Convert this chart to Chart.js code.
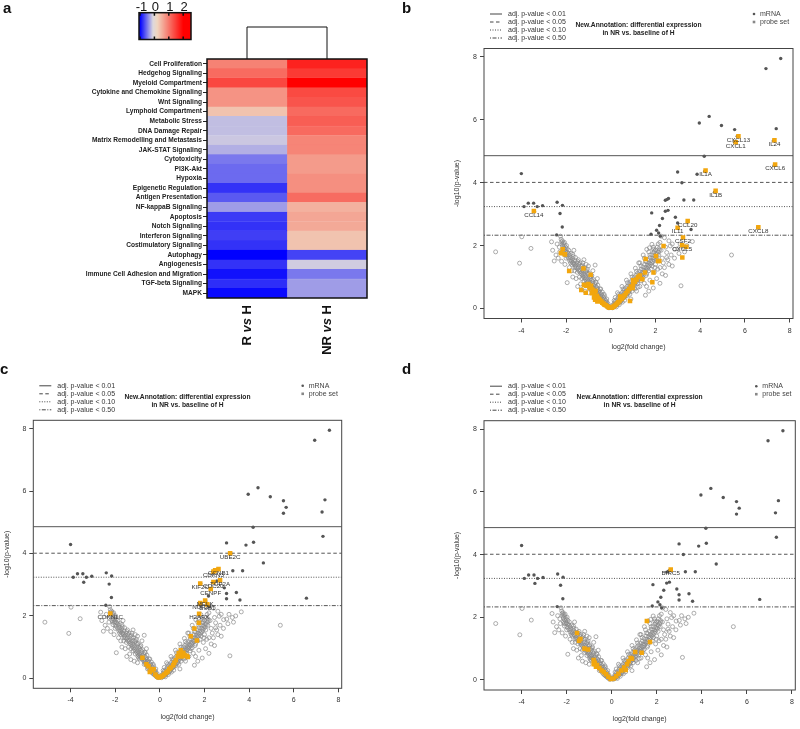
<!DOCTYPE html>
<html>
<head>
<meta charset="utf-8">
<script src="https://cdn.jsdelivr.net/npm/chart.js@4.4.1/dist/chart.umd.min.js"></script>
<style>
  html, body { margin: 0; padding: 0; background: #fff; }
  #wrap { position: relative; width: 800px; height: 729px; overflow: hidden; }
  canvas { position: absolute; }
</style>
</head>
<body>
<div id="wrap">
  <canvas id="heat" width="400" height="360" style="left:0;top:0"></canvas>
  <canvas id="volB" width="400" height="365" style="left:400px;top:0"></canvas>
  <canvas id="volC" width="400" height="389" style="left:0;top:340px"></canvas>
  <canvas id="volD" width="400" height="389" style="left:400px;top:340px"></canvas>
</div>
<script>
// ===== DATA =====
const pathways = ['Cell Proliferation', 'Hedgehog Signaling', 'Myeloid Compartment', 'Cytokine and Chemokine Signaling',
  'Wnt Signaling', 'Lymphoid Compartment', 'Metabolic Stress', 'DNA Damage Repair', 'Matrix Remodelling and Metastasis',
  'JAK-STAT Signaling', 'Cytotoxicity', 'PI3K-Akt', 'Hypoxia', 'Epigenetic Regulation', 'Antigen Presentation',
  'NF-kappaB Signaling', 'Apoptosis', 'Notch Signaling', 'Interferon Signaling', 'Costimulatory Signaling',
  'Autophagy', 'Angiogenesis', 'Immune Cell Adhesion and Migration', 'TGF-beta Signaling', 'MAPK'];
const comparisons = ['R vs H', 'NR vs H'];
const rVsH = [0.91, 1.10, 1.40, 0.76, 0.76, 0.36, -0.21, -0.21, -0.17, -0.27, -0.50, -0.56, -0.56,
  -0.79, -0.63, -0.35, -0.76, -0.79, -0.74, -0.79, -1.00, -0.79, -0.93, -0.81, -0.96];
const nrVsH = [1.71, 1.51, 2.00, 1.38, 1.29, 1.11, 1.21, 1.11, 0.88, 0.88, 0.70, 0.70, 0.80,
  0.80, 1.09, 0.51, 0.60, 0.58, 0.36, 0.36, -0.72, -0.15, -0.50, -0.35, -0.35];
const keyTicks = [-1, 0, 1, 2];

const xTicks = [-4, -2, 0, 2, 4, 6, 8];
const yTicks = [0, 2, 4, 6, 8];
const thresholds = [4.86, 4.01, 3.24, 2.33];
const thresholdLabels = ['adj. p-value < 0.01', 'adj. p-value < 0.05', 'adj. p-value < 0.10', 'adj. p-value < 0.50'];

// non-significant features (open circles), shared by b, c, d
const nsPoints = [
  [-0.05,0.04],[-0.10,0.08],[-0.12,0.15],[-0.15,0.10],[-0.18,0.20],[-0.20,0.14],[-0.22,0.25],[-0.25,0.18],[-0.28,0.30],[-0.30,0.22],
  [-0.32,0.35],[-0.35,0.27],[-0.38,0.40],[-0.40,0.30],[-0.42,0.45],[-0.45,0.36],[-0.48,0.50],[-0.50,0.40],[-0.52,0.55],[-0.55,0.45],
  [-0.58,0.60],[-0.60,0.50],[-0.62,0.66],[-0.65,0.55],[-0.68,0.70],[-0.70,0.60],[-0.72,0.78],[-0.75,0.64],[-0.78,0.72],[-0.80,0.85],
  [-0.82,0.68],[-0.85,0.90],[-0.88,0.76],[-0.90,0.95],[-0.92,0.80],[-0.95,1.00],[-0.98,0.86],[-1.00,1.08],[-1.03,0.92],[-1.06,1.12],
  [-1.10,0.98],[-1.12,1.18],[-1.15,1.05],[-1.20,1.22],[-1.22,1.10],[-1.25,1.30],[-1.30,1.16],[-1.33,1.35],[-1.38,1.22],[-1.42,1.40],
  [-1.45,1.30],[-1.50,1.45],[-1.55,1.38],[-1.60,1.52],[-1.65,1.44],[-1.70,1.58],[-1.75,1.50],[-1.80,1.62],[-1.85,1.70],[-1.90,1.75],
  [-1.95,1.66],[-2.00,1.82],[-2.02,1.95],[-2.05,1.88],[-2.08,2.02],[-2.10,1.92],[-2.12,2.08],[-2.15,1.98],[-2.18,2.05],[-2.20,2.12],
  [-2.22,2.20],[-0.30,0.45],[-0.55,0.30],[-0.70,0.45],[-0.90,0.62],[-1.10,0.78],[-1.30,0.95],[-0.45,0.62],[-0.65,0.82],[-0.85,1.05],
  [-1.05,1.25],[-1.25,1.45],[-1.45,1.55],[-1.70,1.72],[-1.95,1.90],[-1.60,1.30],[-1.80,1.45],[-2.00,1.60],[-2.10,1.72],[-1.95,0.82],
  [-1.30,0.60],[-0.70,1.38],[-2.45,1.70],[-2.53,1.51],[-2.65,2.12],[-2.25,2.30],[-3.98,2.28],[-5.15,1.80],[-4.08,1.44],[-3.57,1.91],
  [-1.70,1.00],[-1.15,0.55],[-2.30,1.95],[-1.50,1.15],[-0.95,0.65],
  [-0.08,0.02],[-0.14,0.05],[-0.19,0.08],[-0.24,0.11],[-0.29,0.14],[-0.34,0.17],[-0.39,0.21],[-0.44,0.26],[-0.49,0.31],[-0.54,0.36],
  [-0.59,0.41],[-0.64,0.46],[-0.69,0.52],[-0.74,0.57],[-0.79,0.62],[-0.84,0.66],[-0.89,0.70],[-0.94,0.74],[-0.99,0.78],[-1.04,0.83],
  [-1.09,0.88],[-1.14,0.93],[-1.19,0.98],[-1.24,1.03],[-1.29,1.08],[-1.34,1.12],[-1.39,1.17],[-1.44,1.21],[-1.49,1.26],[-1.54,1.30],
  [-1.59,1.35],[-1.64,1.40],[-1.69,1.45],[-1.74,1.40],[-1.79,1.55],[-1.84,1.52],[-1.89,1.60],[-1.94,1.78],[-1.99,1.70],[-2.04,1.80],
  [-2.07,2.10],[-2.14,1.85],[-2.16,2.15],[-2.11,1.80],[-1.98,2.00],[-1.88,1.85],[-1.78,1.75],[-1.68,1.65],[-1.58,1.62],[-1.48,1.50],
  [-1.38,1.45],[-1.28,1.38],[-1.18,1.30],[-1.08,1.20],[-0.98,1.12],[-0.88,1.02],[-0.78,0.92],[-0.68,0.84],[-0.58,0.74],[-0.48,0.62],
  [-0.38,0.52],[-0.28,0.40],[-0.18,0.30],[-1.62,1.20],[-1.40,1.00],[-1.20,0.88],[-0.98,0.70],[-2.35,1.60],[-1.00,0.50],[-0.60,0.95],
  [-1.10,1.40],[-2.05,1.40],[-2.40,2.05],[-1.75,1.20],[-1.55,0.95],[-1.85,1.30],[-2.20,1.50],[-2.60,1.85],[-1.35,0.78],
  [-0.80,1.20],[-1.20,1.55],[-1.00,1.35],[-1.65,1.85],[-2.28,1.80],[-1.48,0.70],
  [0.05,0.05],[0.08,0.10],[0.12,0.08],[0.15,0.16],[0.18,0.12],[0.20,0.22],[0.24,0.17],[0.27,0.28],[0.30,0.20],[0.33,0.34],
  [0.36,0.26],[0.40,0.40],[0.43,0.32],[0.46,0.46],[0.50,0.38],[0.53,0.52],[0.56,0.44],[0.60,0.58],[0.63,0.50],[0.66,0.64],
  [0.70,0.55],[0.73,0.70],[0.76,0.60],[0.80,0.76],[0.83,0.66],[0.86,0.82],[0.90,0.72],[0.93,0.88],[0.96,0.78],[1.00,0.94],
  [1.03,0.84],[1.06,1.00],[1.10,0.90],[1.13,1.06],[1.16,0.96],[1.20,1.12],[1.24,1.02],[1.28,1.18],[1.32,1.08],[1.36,1.25],
  [1.40,1.15],[1.44,1.32],[1.48,1.22],[1.52,1.40],[1.56,1.30],[1.60,1.48],[1.64,1.38],[1.68,1.55],[1.72,1.45],[1.76,1.62],
  [1.80,1.52],[1.84,1.70],[1.88,1.60],[1.92,1.78],[1.96,1.68],[2.00,1.86],[2.04,1.75],[2.08,1.95],[2.12,2.05],[2.16,1.90],
  [2.20,2.10],[0.50,0.70],[0.70,0.90],[0.90,1.10],[1.10,1.28],[1.30,1.45],[1.50,1.60],[1.70,1.80],[1.90,1.95],[0.60,0.35],
  [0.80,0.50],[1.00,0.65],[1.20,0.80],[1.40,0.95],[1.60,1.10],[1.80,1.25],[2.00,1.40],[1.30,0.70],[1.55,0.42],[0.90,0.30],
  [1.15,0.55],[1.75,0.90],[1.95,1.15],[2.20,1.30],[2.30,1.60],[2.50,1.62],[2.50,1.78],[2.66,1.99],[2.86,1.88],[2.75,2.05],
  [3.00,1.90],[3.10,2.05],[3.25,1.95],[3.40,2.00],[3.65,2.13],[3.14,0.72],[5.40,1.70],[2.40,2.25],[2.25,2.30],[1.84,2.04],
  [1.73,1.93],[1.61,1.88],[1.91,1.88],[2.15,1.70],[2.35,1.45],[2.60,1.40],[1.45,1.70],[1.25,1.45],[0.30,0.50],[0.45,0.22],
  [0.20,0.35],
  [0.07,0.02],[0.13,0.05],[0.18,0.07],[0.23,0.10],[0.28,0.13],[0.33,0.16],[0.38,0.19],[0.43,0.23],[0.48,0.27],[0.53,0.31],
  [0.58,0.35],[0.63,0.39],[0.68,0.43],[0.73,0.47],[0.78,0.52],[0.83,0.56],[0.88,0.61],[0.93,0.65],[0.98,0.70],[1.03,0.74],
  [1.08,0.78],[1.13,0.83],[1.18,0.88],[1.23,0.92],[1.28,0.96],[1.33,1.00],[1.38,1.05],[1.43,1.10],[1.48,1.14],[1.53,1.18],
  [1.58,1.22],[1.63,1.27],[1.68,1.32],[1.73,1.36],[1.78,1.40],[1.83,1.45],[1.88,1.50],[1.93,1.55],[1.98,1.60],[2.03,1.65],
  [2.08,1.72],[2.13,1.80],[2.18,1.85],[2.06,1.55],[1.98,1.30],[1.85,1.35],[1.70,1.20],[1.58,1.05],[1.45,0.98],[1.35,0.88],
  [1.22,0.68],[1.08,0.62],[0.95,0.55],[0.85,0.45],[0.72,0.40],[0.62,0.26],[0.52,0.20],[0.38,0.12],[0.25,0.05],[0.15,0.25],
  [0.35,0.45],[0.55,0.62],[0.75,0.82],[0.95,1.00],[1.15,1.18],[1.35,1.35],[1.55,1.50],[1.75,1.70],[1.95,1.82],[2.10,1.25],
  [2.25,1.85],[2.45,1.95],[2.60,2.15],[2.70,1.70],[1.60,0.70],[2.30,1.10],[2.05,0.95],[1.50,0.80],[2.40,1.30],[2.55,1.55],
  [2.85,1.60],[3.05,1.75],[2.20,0.80],[1.90,0.65],[2.75,1.35],[3.30,1.80],[1.70,0.55],[2.45,1.05]
];

// significant mRNA features (solid dots), shared by b, c, d
const sigPoints = [
  [7.60,7.95],[6.94,7.63],[4.40,6.11],[3.96,5.90],[4.95,5.82],[5.54,5.69],[7.40,5.72],[5.66,5.48],[5.54,5.29],[7.27,5.33],
  [4.18,4.84],[7.31,4.55],[2.99,4.34],[4.20,4.36],[3.86,4.27],[3.18,4.00],[4.64,3.70],[3.27,3.45],[3.71,3.45],[2.44,3.44],
  [2.52,3.47],[2.58,3.50],[2.44,3.09],[2.56,3.12],[1.83,3.04],[2.89,2.90],[2.31,2.86],[2.99,2.72],[3.43,2.75],[2.18,2.64],
  [2.99,2.55],[3.59,2.51],[2.05,2.49],[2.14,2.40],[1.80,2.36],[2.22,2.30],[6.57,2.57],
  [-4.00,4.29],[-3.88,3.24],[-3.69,3.35],[-3.45,3.35],[-3.41,3.08],[-3.29,3.24],[-3.05,3.27],[-2.40,3.38],[-2.27,3.02],
  [-2.16,3.28],[-2.17,2.59],[-2.42,2.34]
];

// panel b probe sets
const bLabels = ['CXCL13', 'CXCL1', 'IL24', 'CXCL6', 'IL1A', 'IL1B', 'CCL14', 'CCL20', 'IL11', 'CXCL8', 'CSF2', 'CXCL5'];
const bLabelled = [[5.71,5.48],[5.59,5.29],[7.32,5.35],[7.35,4.58],[4.24,4.39],[4.69,3.74],[-3.44,3.10],[3.44,2.78],
  [2.99,2.57],[6.60,2.58],[3.23,2.26],[3.19,2.01]];
const bOther = [[3.38,1.96],[3.20,1.62],[2.36,1.99],[-2.15,1.88],[-2.23,1.76],[-2.05,1.72],[-1.22,1.27],[-1.86,1.19],
  [-0.90,1.07],[-1.32,0.59],[-1.20,0.75],[-1.10,0.72],[-1.00,0.78],[-0.95,0.65],[-0.88,0.72],[-0.82,0.60],[-0.78,0.52],
  [-0.72,0.45],[-0.68,0.56],[-0.62,0.40],[-0.58,0.34],[-0.52,0.30],[-0.48,0.25],[-0.42,0.22],[-0.38,0.18],[-0.32,0.15],
  [-0.28,0.12],[-0.22,0.10],[-0.16,0.07],[-0.10,0.04],[-0.05,0.02],[-0.85,0.48],[-0.75,0.35],[-0.70,0.28],[-0.60,0.22],
  [-1.12,0.50],[0.05,0.02],[0.10,0.05],[0.16,0.08],[0.22,0.12],[0.28,0.16],[0.34,0.20],[0.40,0.25],[0.42,0.38],[0.48,0.30],
  [0.55,0.36],[0.62,0.42],[0.68,0.48],[0.75,0.55],[0.86,0.24],[0.82,0.62],[0.90,0.70],[0.98,0.65],[1.00,0.78],[1.08,0.85],
  [1.15,0.92],[1.22,1.00],[1.41,0.93],[1.53,1.14],[1.91,1.14],[1.86,0.83],[1.56,1.57],[2.02,1.67],[2.11,1.51],[2.17,1.51],
  [1.30,1.05],[1.00,0.90]];

// panel c probe sets
const cLabels = ['UBE2C', 'CCNB1', 'CDKN3', 'TOP2A', 'CDC20', 'KIF2C', 'CENPF', 'MELK', 'NUF2', 'BUB1', 'H2AFX', 'CDKN1C'];
const cLabelled = [[3.15,4.01],[2.63,3.50],[2.40,3.42],[2.70,3.14],[2.40,3.09],[1.81,3.04],[2.28,2.86],[2.03,2.49],
  [1.81,2.41],[2.13,2.37],[1.76,2.07],[-2.22,2.08]];
const cOther = [[2.48,3.46],[1.75,1.78],[1.55,1.60],[1.39,1.35],[1.66,1.21],[0.94,0.90],[1.05,0.82],[1.10,0.75],[1.20,0.72],
  [1.25,0.68],[0.85,0.80],[0.80,0.70],[0.72,0.58],[0.65,0.50],[0.60,0.42],[0.50,0.35],[0.42,0.30],[0.35,0.22],[0.28,0.18],
  [0.20,0.12],[0.12,0.08],[0.05,0.04],[-0.78,0.66],[-0.51,0.39],[-0.28,0.29],[-0.40,0.30],[-0.35,0.25],[-0.60,0.45],
  [-0.45,0.20],[-0.20,0.12],[-0.12,0.06],[-0.05,0.03],[1.00,0.70]];

// panel d probe sets
const dLabels = ['BIRC5'];
const dLabelled = [[2.62,3.52]];
const dOther = [[1.56,1.88],[1.70,1.21],[1.33,0.87],[1.04,0.89],[0.84,0.70],[0.75,0.60],[0.68,0.50],[0.55,0.40],[0.42,0.30],
  [0.30,0.20],[0.20,0.12],[0.08,0.05],[0.90,0.68],[0.62,0.32],[-1.54,1.50],[-1.39,1.31],[-1.45,1.25],[-1.21,1.00],[-1.05,0.97],
  [-0.80,0.64],[-0.75,0.55],[-0.65,0.48],[-0.55,0.38],[-0.45,0.30],[-0.35,0.25],[-0.25,0.18],[-0.15,0.10],[-0.05,0.03],
  [-0.80,0.50],[-0.70,0.42]];

// ===== STYLE =====
Chart.defaults.font.family = "'Liberation Sans', Arial, sans-serif";
Chart.defaults.color = '#333';
Chart.defaults.animation = false;
Chart.defaults.plugins.legend.display = false;
Chart.defaults.plugins.tooltip.enabled = false;

const FONT = "'Liberation Sans', Arial, sans-serif";
const ORANGE = '#f2a60e';
const X_MIN = -5.67, X_MAX = 8.15, Y_MIN = -0.32, Y_MAX = 8.27;
const DASHES = [[], [3.5, 2.5], [1, 1.5], [1, 1.5, 4, 1.5]];
const HEAT_STOPS = [[-1, [0, 0, 255]], [-0.1, [220, 216, 222]], [0.2, [240, 214, 192]], [2, [255, 0, 0]]];

function heatColor(v) {
  const s = HEAT_STOPS;
  if (v <= s[0][0]) return `rgb(${s[0][1].join(',')})`;
  for (let i = 1; i < s.length; i++) {
    if (v <= s[i][0]) {
      const t = (v - s[i - 1][0]) / (s[i][0] - s[i - 1][0]);
      const c = s[i - 1][1].map((c0, k) => Math.round(c0 + (s[i][1][k] - c0) * t));
      return `rgb(${c.join(',')})`;
    }
  }
  return `rgb(${s[s.length - 1][1].join(',')})`;
}

const toXY = pts => pts.map(p => ({ x: p[0], y: p[1] }));

// ===== a. HEATMAP =====
const heatDecor = {
  id: 'heatDecor',
  afterDraw(chart) {
    const { ctx, chartArea: a, scales: { x } } = chart;
    ctx.save();
    // frame
    ctx.strokeStyle = '#111';
    ctx.lineWidth = 1.5;
    ctx.strokeRect(a.left, a.top, a.right - a.left, a.bottom - a.top);
    // dendrogram
    const x0 = x.getPixelForValue(0.5), x1 = x.getPixelForValue(1.5), topY = a.top - 32;
    ctx.lineWidth = 1;
    ctx.beginPath();
    ctx.moveTo(x0, a.top); ctx.lineTo(x0, topY); ctx.lineTo(x1, topY); ctx.lineTo(x1, a.top);
    ctx.stroke();
    // rotated column labels
    ctx.fillStyle = '#111';
    comparisons.forEach((lab, i) => {
      const words = lab.split(' ');
      const pieces = [[words[0] + ' ', 'bold'], ['vs', 'italic bold'], [' ' + words[2], 'bold']];
      ctx.save();
      ctx.translate(x.getPixelForValue(i + 0.5), a.bottom + 7);
      ctx.rotate(-Math.PI / 2);
      ctx.textAlign = 'right';
      ctx.textBaseline = 'middle';
      let xp = 0;
      pieces.reverse().forEach(([txt, st]) => {
        ctx.font = `${st} 13px ${FONT}`;
        ctx.fillText(txt, xp, 0);
        xp -= ctx.measureText(txt).width;
      });
      ctx.restore();
    });
    // colour key
    const kx0 = 139, kx1 = 191, ky0 = 12.7, ky1 = 39.5, vAt = px => -1 + (px - 140) / 14.4;
    for (let px = kx0; px < kx1; px++) {
      ctx.fillStyle = heatColor(vAt(px + 0.5));
      ctx.fillRect(px, ky0, 1, ky1 - ky0);
    }
    ctx.strokeStyle = '#111';
    ctx.lineWidth = 1.5;
    ctx.strokeRect(kx0, ky0, kx1 - kx0, ky1 - ky0);
    ctx.font = `13px ${FONT}`;
    ctx.textAlign = 'center';
    ctx.textBaseline = 'alphabetic';
    ctx.fillStyle = '#111';
    keyTicks.forEach(v => {
      const px = 140 + (v + 1) * 14.4;
      ctx.beginPath();
      ctx.moveTo(px, ky0); ctx.lineTo(px, ky0 + 3);
      ctx.moveTo(px, ky1); ctx.lineTo(px, ky1 - 3);
      ctx.stroke();
      ctx.fillText(String(v), px + (v < 0 ? 1.5 : 1), 10.5);
    });
    // panel letter
    ctx.font = `bold 15px ${FONT}`;
    ctx.textAlign = 'left';
    ctx.fillText('a', 3, 13);
    ctx.restore();
  }
};

new Chart(document.getElementById('heat'), {
  type: 'bar',
  data: {
    labels: pathways,
    datasets: [rVsH, nrVsH].map((vals, i) => ({
      label: comparisons[i],
      data: vals.map(() => 1),
      backgroundColor: vals.map(heatColor),
      borderColor: vals.map(heatColor),
      borderWidth: 0.6,
      borderSkipped: false,
      barPercentage: 1,
      categoryPercentage: 1,
    }))
  },
  options: {
    indexAxis: 'y',
    responsive: false,
    events: [],
    layout: { padding: { left: 0, top: 59, right: 33, bottom: 62 } },
    scales: {
      x: { display: false, stacked: true, min: 0, max: 2 },
      y: {
        stacked: true,
        afterFit: s => { s.width = 207; },
        border: { display: false },
        grid: { drawOnChartArea: false, offset: false, tickLength: 4, color: '#222' },
        ticks: { autoSkip: false, padding: 1, color: '#222', font: { size: 6.6, weight: 'bold' } }
      }
    }
  },
  plugins: [heatDecor]
});

// ===== b, c, d. VOLCANO PLOTS =====
function volcanoDecor(geo) {
  return {
    id: 'volcanoDecor',
    afterDatasetsDraw(chart) {
      const { ctx } = chart;
      const meta = chart.getDatasetMeta(0);
      const labels = chart.data.datasets[0].pointLabels;
      ctx.save();
      ctx.font = `6.2px ${FONT}`;
      ctx.fillStyle = '#333';
      ctx.textAlign = 'center';
      ctx.textBaseline = 'middle';
      meta.data.forEach((el, i) => ctx.fillText(labels[i], el.x, el.y + 4));
      ctx.restore();
    },
    afterDraw(chart) {
      const { ctx, chartArea: a } = chart;
      ctx.save();
      ctx.strokeStyle = '#444';
      ctx.lineWidth = 1;
      ctx.strokeRect(a.left, a.top, a.right - a.left, a.bottom - a.top);
      // threshold legend
      ctx.font = `7px ${FONT}`;
      ctx.textBaseline = 'middle';
      ctx.textAlign = 'left';
      ctx.fillStyle = '#333';
      thresholdLabels.forEach((t, i) => {
        const y = a.top - 34.5 + i * 8;
        ctx.setLineDash(DASHES[i]);
        ctx.beginPath();
        ctx.moveTo(a.left + 6, y); ctx.lineTo(a.left + 18, y);
        ctx.stroke();
        ctx.fillText(t, a.left + 24, y);
      });
      ctx.setLineDash([]);
      // title
      ctx.font = `bold 6.7px ${FONT}`;
      ctx.textAlign = 'center';
      ctx.fillStyle = '#222';
      const cx = (a.left + a.right) / 2;
      ctx.fillText('New.Annotation: differential expression', cx, a.top - 23.5);
      ctx.fillText('in NR vs. baseline of H', cx, a.top - 15.5);
      // point legend
      ctx.font = `7px ${FONT}`;
      ctx.textAlign = 'left';
      ctx.fillStyle = '#555';
      ctx.beginPath();
      ctx.arc(a.right - 39, a.top - 34.5, 1.3, 0, Math.PI * 2);
      ctx.fill();
      ctx.fillStyle = '#888';
      ctx.fillRect(a.right - 40.3, a.top - 27.8, 2.6, 2.6);
      ctx.fillStyle = '#444';
      ctx.fillText('mRNA', a.right - 33, a.top - 34.5);
      ctx.fillText('probe set', a.right - 33, a.top - 26.5);
      // panel letter
      ctx.font = `bold 15px ${FONT}`;
      ctx.fillStyle = '#111';
      ctx.textBaseline = 'alphabetic';
      ctx.fillText(geo.letter, geo.letterX, geo.letterY);
      ctx.restore();
    }
  };
}

function volcano(id, geo, labelled, labels, other) {
  new Chart(document.getElementById(id), {
    type: 'scatter',
    data: {
      datasets: [
        { data: toXY(labelled), pointLabels: labels, pointStyle: 'rect', pointRadius: 3.2,
          backgroundColor: ORANGE, borderWidth: 0, order: 0 },
        { data: toXY(other), pointStyle: 'rect', pointRadius: 3.2,
          backgroundColor: ORANGE, borderWidth: 0, order: 1 },
        { data: toXY(sigPoints), pointStyle: 'circle', pointRadius: 1.7,
          backgroundColor: '#555', borderWidth: 0, order: 2 },
        { data: toXY(nsPoints), pointStyle: 'circle', pointRadius: 2,
          backgroundColor: 'rgba(255,255,255,0)', borderColor: '#8a8a8a', borderWidth: 0.7, order: 3 },
        ...thresholds.map((t, i) => ({
          type: 'line', data: [{ x: X_MIN, y: t }, { x: X_MAX, y: t }],
          borderColor: '#555', borderWidth: 1, borderDash: DASHES[i], pointRadius: 0, order: 4
        }))
      ]
    },
    options: {
      responsive: false,
      events: [],
      layout: { padding: { left: 0, top: geo.areaTop, right: geo.padRight, bottom: 0 } },
      scales: {
        x: {
          type: 'linear', min: X_MIN, max: X_MAX,
          afterFit: s => { s.height = geo.xHeight; },
          afterBuildTicks: s => { s.ticks = xTicks.map(v => ({ value: v })); },
          border: { display: false },
          grid: { drawOnChartArea: false, tickLength: 4, color: '#444' },
          ticks: { padding: 4, font: { size: 7 }, color: '#333' },
          title: { display: true, text: 'log2(fold change)', font: { size: 7 }, color: '#333',
            padding: { top: 0, bottom: geo.xTitlePad } }
        },
        y: {
          type: 'linear', min: Y_MIN, max: Y_MAX,
          afterFit: s => { s.width = geo.yWidth; },
          afterBuildTicks: s => { s.ticks = yTicks.map(v => ({ value: v })); },
          border: { display: false },
          grid: { drawOnChartArea: false, tickLength: 4, color: '#444' },
          ticks: { padding: 3, font: { size: 7 }, color: '#333' },
          title: { display: true, text: '-log10(p-value)', font: { size: 7 }, color: '#333',
            padding: { top: geo.yTitlePad, bottom: 0 } }
        }
      }
    },
    plugins: [volcanoDecor(geo)]
  });
}

volcano('volB', { areaTop: 48.5, padRight: 7, yWidth: 84, xHeight: 46.5, xTitlePad: 13.8, yTitlePad: 52.8,
  letter: 'b', letterX: 2, letterY: 13 }, bLabelled, bLabels, bOther);
volcano('volC', { areaTop: 80.3, padRight: 58.3, yWidth: 33.3, xHeight: 40.7, xTitlePad: 8.1, yTitlePad: 2.8,
  letter: 'c', letterX: 0, letterY: 34 }, cLabelled, cLabels, cOther);
volcano('volD', { areaTop: 80.7, padRight: 4.3, yWidth: 84, xHeight: 39, xTitlePad: 5.8, yTitlePad: 52.8,
  letter: 'd', letterX: 2, letterY: 34 }, dLabelled, dLabels, dOther);
</script>
</body>
</html>
